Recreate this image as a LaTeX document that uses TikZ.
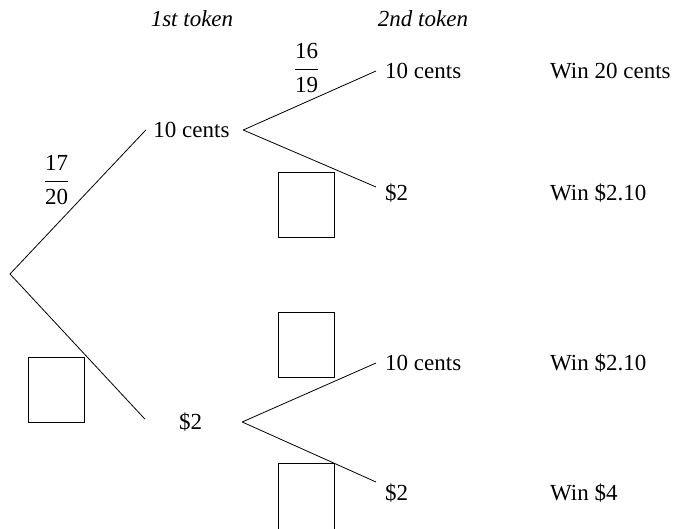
\documentclass[tikz,border=0pt]{standalone}
\usepackage{amsmath}
\usepackage{fontspec}
\setmainfont{Liberation Serif}
\begin{document}
\begin{tikzpicture}[x=1pt,y=-1pt,
  lbl/.style={font=\fontsize{23}{27}\selectfont, inner ysep=0pt, text height=15.5pt, text depth=0pt},
  first/.style={lbl, minimum width=91pt, inner xsep=0pt},
  second/.style={lbl, anchor=west, inner xsep=9pt},
  result/.style={lbl, anchor=west, inner xsep=0pt},
  head/.style={lbl, font=\fontsize{23}{27}\selectfont\itshape},
  frac/.style={font=\fontsize{23}{27}\selectfont, inner sep=0pt},
  ansbox/.style={draw, line width=0.8pt, minimum width=56pt, minimum height=65pt, inner sep=0pt},
  branch/.style={line width=0.8pt}]
\useasboundingbox (0,0) rectangle (675,529);

% headers
\node[head] (h1) at (192,18.5) {1st token};
\node[head] (h2) at (423,18.5) {2nd token};

% root
\coordinate (r) at (10,274);

% first token
\node[first] (a) at (191.5,130) {10 cents};
\node[first] (b) at (190.5,422) {\$2};

% second token
\node[second] (c) at (376,71) {10 cents};
\node[second] (d) at (376,193) {\$2};
\node[second] (e) at (376,363) {10 cents};
\node[second] (f) at (376,493) {\$2};

% results
\node[result] (w1) at (550,71) {Win 20 cents};
\node[result] (w2) at (550,193) {Win \$2.10};
\node[result] (w3) at (550,363) {Win \$2.10};
\node[result] (w4) at (550,493) {Win \$4};

% branches
\draw[branch] (r) -- (a.west);
\draw[branch] (r) -- ([yshift=3pt]b.west);
\draw[branch] ([xshift=6pt]a.east) -- (c.west);
\draw[branch] ([xshift=6pt]a.east) -- ([yshift=6pt]d.west);
\draw[branch] ([xshift=6pt]b.east) -- (e.west);
\draw[branch] ([xshift=6pt]b.east) -- ([yshift=11pt]f.west);

% fractions
\node[frac] (p1) at (56.5,180) {$\dfrac{\text{17}}{\text{20}}$};
\node[frac] (p2) at (306.5,68) {$\dfrac{\text{16}}{\text{19}}$};

% answer boxes
\node[ansbox] (bx1) at (56,390) {};
\node[ansbox] (bx2) at (306,204.5) {};
\node[ansbox] (bx3) at (306,344.5) {};
\node[ansbox, minimum height=75pt] (bx4) at (306,500.5) {};
\end{tikzpicture}
\end{document}
